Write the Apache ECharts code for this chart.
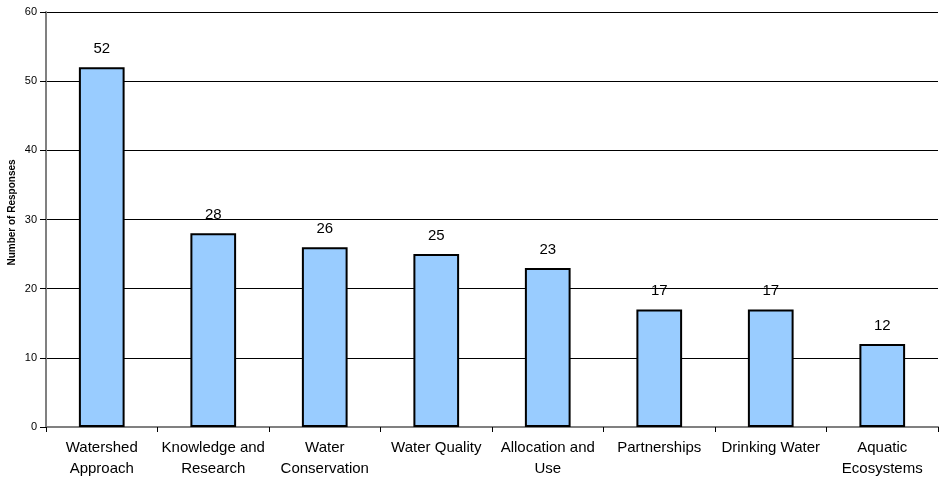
<!DOCTYPE html>
<html><head><meta charset="utf-8">
<script src="https://cdn.jsdelivr.net/npm/echarts@6/dist/echarts.min.js"></script>
<style>html,body{margin:0;padding:0;background:#fff}#c{width:939px;height:479px}</style>
</head><body><div id="c"></div>
<script>
const categories = ["Watershed\nApproach","Knowledge and\nResearch","Water\nConservation","Water Quality","Allocation and\nUse","Partnerships","Drinking Water","Aquatic\nEcosystems"];
const values = [52,28,26,25,23,17,17,12];
const yTicks = {min:0,max:60,interval:10};
const chart = echarts.init(document.getElementById('c'));
chart.setOption({
  animation:false,
  grid:{left:46,right:1,top:12,bottom:52,containLabel:false,outerBoundsMode:'none'},
  xAxis:{type:'category',data:categories,
    axisLine:{lineStyle:{color:'#808080',width:2}},
    axisTick:{show:true,alignWithLabel:false,length:5,lineStyle:{color:'#000'}},
    axisLabel:{color:'#000',fontFamily:'Liberation Sans, Arial',fontSize:15,lineHeight:21,margin:10,interval:0}},
  yAxis:{type:'value',min:yTicks.min,max:yTicks.max,interval:yTicks.interval,
    name:'Number of Responses',nameLocation:'middle',nameGap:29,nameRotate:90,nameMoveOverlap:false,
    nameTextStyle:{fontFamily:'Liberation Sans, Arial',fontSize:10,fontWeight:'bold',color:'#000',padding:[0,0,0,14]},
    axisLine:{show:true,lineStyle:{color:'#808080',width:2}},
    axisTick:{show:true,length:6,lineStyle:{color:'#000'}},
    axisLabel:{color:'#000',fontFamily:'Liberation Sans, Arial',fontSize:11,margin:9},
    splitLine:{lineStyle:{color:'#000',width:1}}},
  series:[{type:'bar',data:values,barWidth:'41%',
    itemStyle:{color:'#99CCFF',borderColor:'#000',borderWidth:2},
    label:{show:true,position:'top',distance:11,color:'#000',fontFamily:'Liberation Sans, Arial',fontSize:15}}]
});
</script></body></html>
